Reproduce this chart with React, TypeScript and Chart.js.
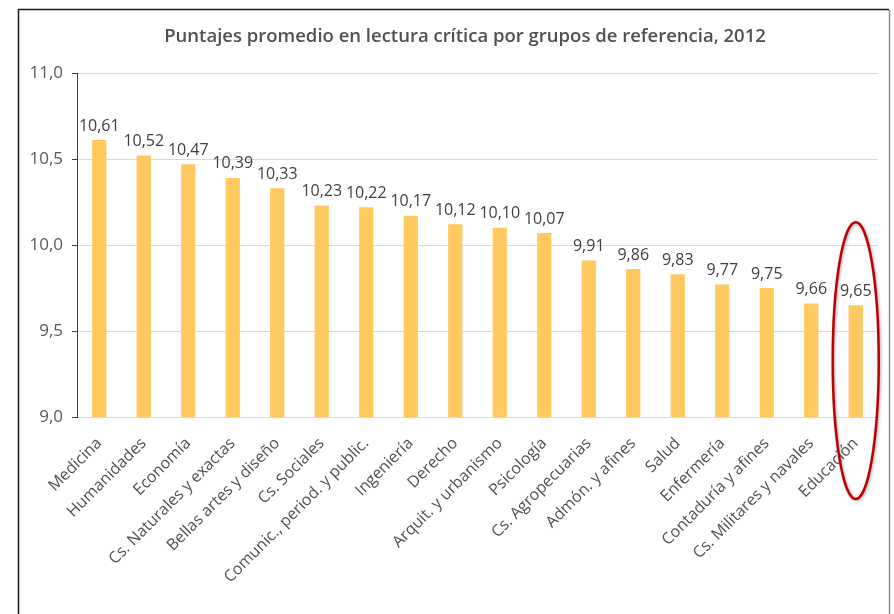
import React, { useEffect, useRef } from "react";
import { Chart, registerables } from "chart.js";

Chart.register(...registerables);

const categories = [
  "Medicina",
  "Humanidades",
  "Economía",
  "Cs. Naturales y exactas",
  "Bellas artes y diseño",
  "Cs. Sociales",
  "Comunic., period. y public.",
  "Ingeniería",
  "Derecho",
  "Arquit. y urbanismo",
  "Psicología",
  "Cs. Agropecuarias",
  "Admón. y afines",
  "Salud",
  "Enfermería",
  "Contaduría y afines",
  "Cs. Militares y navales",
  "Educación",
];

const scores = [10.61, 10.52, 10.47, 10.39, 10.33, 10.23, 10.22, 10.17, 10.12, 10.1, 10.07, 9.91, 9.86, 9.83, 9.77, 9.75, 9.66, 9.65];

const yTicks = [9.0, 9.5, 10.0, 10.5, 11.0];

const titleText = "Puntajes promedio en lectura crítica por grupos de referencia, 2012";
const highlightIndex = 17;

const FONT = "'Open Sans', 'DejaVu Sans', sans-serif";

const fmt = (v: number, d: number) => v.toFixed(d).replace(".", ",");

const framePlugin = {
  id: "frame",
  beforeDraw(chart: any) {
    const ctx = chart.ctx;
    ctx.save();
    ctx.fillStyle = "#ffffff";
    ctx.fillRect(0, 0, chart.width, chart.height);
    ctx.strokeStyle = "#1a1a1a";
    ctx.lineWidth = 1.5;
    ctx.beginPath();
    ctx.moveTo(18.5, chart.height);
    ctx.lineTo(18.5, 9.5);
    ctx.lineTo(889, 9.5);
    ctx.stroke();
    ctx.strokeStyle = "#8c8c8c";
    ctx.lineWidth = 1.5;
    ctx.beginPath();
    ctx.moveTo(889.5, 10);
    ctx.lineTo(889.5, chart.height);
    ctx.stroke();
    ctx.restore();
  },
};

const titlePlugin = {
  id: "customTitle",
  afterDraw(chart: any) {
    const ctx = chart.ctx;
    ctx.save();
    ctx.font = `600 18.5px ${FONT}`;
    ctx.fillStyle = "#505050";
    ctx.textAlign = "center";
    ctx.textBaseline = "middle";
    ctx.fillText(titleText, 465, 37);
    ctx.restore();
  },
};

const dataLabelPlugin = {
  id: "dataLabels",
  afterDatasetsDraw(chart: any) {
    const ctx = chart.ctx;
    const meta = chart.getDatasetMeta(0);
    ctx.save();
    ctx.font = `16px ${FONT}`;
    ctx.fillStyle = "#404040";
    ctx.textAlign = "center";
    ctx.textBaseline = "bottom";
    meta.data.forEach((bar: any, i: number) => {
      ctx.fillText(fmt(scores[i], 2), bar.x, bar.y - 6);
    });
    ctx.restore();
  },
};

const ellipsePlugin = {
  id: "highlightEllipse",
  afterDraw(chart: any) {
    const meta = chart.getDatasetMeta(0);
    const bar = meta.data[highlightIndex];
    if (!bar) return;
    const ctx = chart.ctx;
    const area = chart.chartArea;
    const top = bar.y - 83;
    const bottom = area.bottom + 82;
    const cy = (top + bottom) / 2;
    const ry = (bottom - top) / 2;
    ctx.save();
    ctx.shadowColor = "rgba(0,0,0,0.35)";
    ctx.shadowBlur = 3;
    ctx.shadowOffsetX = 1;
    ctx.shadowOffsetY = 1;
    ctx.strokeStyle = "#C00000";
    ctx.lineWidth = 2.5;
    ctx.beginPath();
    ctx.ellipse(bar.x, cy, 23, ry, 0, 0, Math.PI * 2);
    ctx.stroke();
    ctx.restore();
  },
};

export default function App() {
  const ref = useRef<HTMLCanvasElement | null>(null);

  useEffect(() => {
    if (!ref.current) return;
    const chart = new Chart(ref.current, {
      type: "bar",
      data: {
        labels: categories,
        datasets: [
          {
            data: scores,
            backgroundColor: "#FFC95F",
            borderWidth: 0,
            barPercentage: 0.32,
            categoryPercentage: 1,
          },
        ],
      },
      options: {
        responsive: false,
        animation: false,
        layout: { padding: { top: 73, right: 16, left: 0, bottom: 0 } },
        plugins: {
          legend: { display: false },
          tooltip: { enabled: false },
          title: { display: false },
        },
        scales: {
          x: {
            grid: { display: false },
            border: { display: true, color: "#D9D9D9" },
            ticks: {
              maxRotation: 45,
              minRotation: 45,
              autoSkip: false,
              padding: 9,
              color: "#505050",
              font: { family: FONT, size: 16 },
            },
            afterFit(scale: any) {
              scale.height = 614 - 417;
            },
          },
          y: {
            min: 9,
            max: 11,
            afterBuildTicks(scale: any) {
              scale.ticks = yTicks.map((v) => ({ value: v }));
            },
            grid: {
              color: "#D9D9D9",
              tickColor: "#404040",
              tickLength: 5,
              lineWidth: 1,
            },
            border: { display: true, color: "#404040", width: 1 },
            ticks: {
              padding: 9,
              color: "#595959",
              font: { family: FONT, size: 17 },
              callback: (v: any) => fmt(Number(v), 1),
            },
            afterFit(scale: any) {
              scale.width = 77;
            },
          },
        },
      },
      plugins: [framePlugin, titlePlugin, dataLabelPlugin, ellipsePlugin],
    });
    return () => chart.destroy();
  }, []);

  return (
    <div style={{ position: "fixed", left: 0, top: 0, width: 894, height: 614, background: "#fff" }}>
      <canvas ref={ref} width={894} height={614} style={{ display: "block" }} />
    </div>
  );
}
